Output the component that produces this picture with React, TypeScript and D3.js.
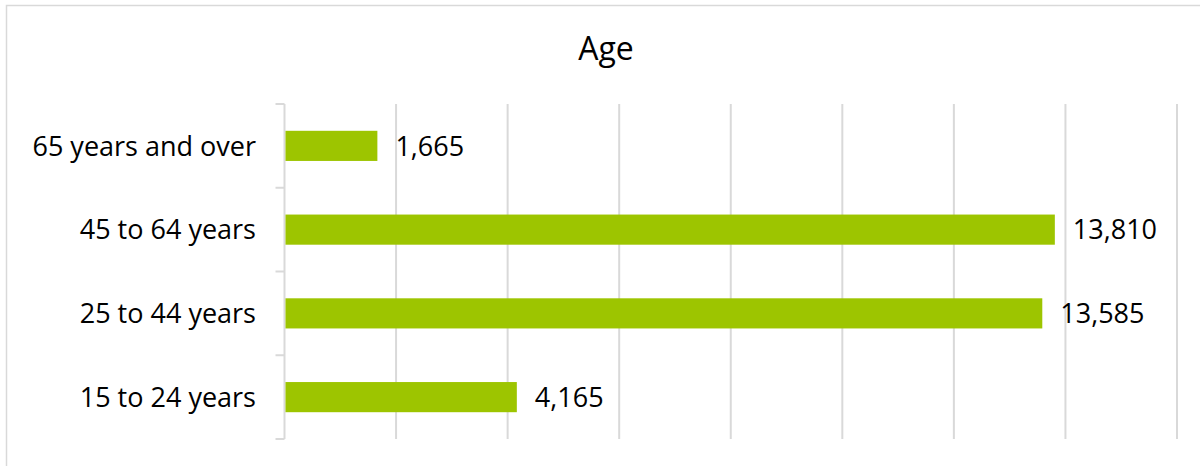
import React from "react";
import * as d3 from "d3";

const categories = ["65 years and over", "45 to 64 years", "25 to 44 years", "15 to 24 years"];
const values = [1665, 13810, 13585, 4165];
const xTicks = [0, 2000, 4000, 6000, 8000, 10000, 12000, 14000, 16000];
const title = "Age";

const W = 1200;
const H = 466;
const FONT = "'Open Sans', 'Noto Sans', sans-serif";

export default function App() {
  const left = 284.5;
  const right = 1177;
  const top = 104;
  const bottom = 439;
  const x = d3.scaleLinear().domain([0, 16000]).range([left, right]);
  const y = d3.scaleBand<string>().domain(categories).range([top, bottom]).paddingInner(0.64).paddingOuter(0.32);
  const bandStep = (bottom - top) / categories.length;
  const fmt = d3.format(",");
  const grid = "#D9D9D9";
  return (
    <svg width={W} height={H} style={{ position: "absolute", left: 0, top: 0, background: "#fff" }} fontFamily={FONT}>
      <rect x={6.5} y={5.5} width={1250} height={500} fill="#fff" stroke={grid} strokeWidth={1.5} />
      <text x={606} y={60} textAnchor="middle" fontSize={32} fill="#000">{title}</text>
      {xTicks.slice(1).map((t) => (
        <line key={t} x1={x(t)} x2={x(t)} y1={top} y2={bottom} stroke={grid} strokeWidth={2} />
      ))}
      <line x1={left} x2={left} y1={top} y2={bottom} stroke={grid} strokeWidth={2} />
      {d3.range(categories.length + 1).map((i) => (
        <line key={i} x1={left - 9} x2={left} y1={top + i * bandStep} y2={top + i * bandStep} stroke={grid} strokeWidth={2} />
      ))}
      {categories.map((c, i) => (
        <g key={c}>
          <rect x={x(0) + 1} y={y(c)!} width={x(values[i]) - x(0) - 1} height={y.bandwidth()} fill="#9DC500" />
          <text x={256} y={y(c)! + y.bandwidth() / 2} dy="0.36em" textAnchor="end" fontSize={27} fill="#000">{c}</text>
          <text x={x(values[i]) + 18} y={y(c)! + y.bandwidth() / 2} dy="0.36em" textAnchor="start" fontSize={27} fill="#000">{fmt(values[i])}</text>
        </g>
      ))}
    </svg>
  );
}
